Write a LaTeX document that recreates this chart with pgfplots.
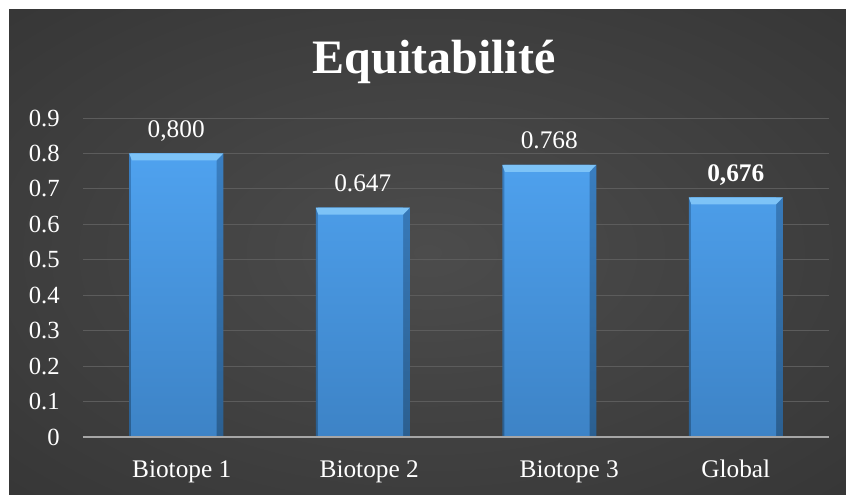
\documentclass[border=0pt]{standalone}
\usepackage{pgfplots}
\pgfplotsset{compat=1.18}
\usepackage{fontspec}
\setmainfont{Liberation Serif}
\definecolor{bgin}{HTML}{4C4C4C}
\definecolor{bgout}{HTML}{222222}
\definecolor{gridc}{HTML}{5C5C5C}
\definecolor{axisc}{HTML}{A6A6A6}
\definecolor{barTop}{HTML}{4FA2EF}
\definecolor{barBot}{HTML}{3D83C6}
\definecolor{edgeTop}{HTML}{3A7FC2}
\definecolor{edgeBot}{HTML}{2B5F90}
\definecolor{bevel}{HTML}{7DC3F7}
\pgfdeclareradialshading{bgshade}{\pgfpoint{0bp}{0bp}}{color(0bp)=(bgin); color(70bp)=(bgout); color(80bp)=(bgout)}
\pgfdeclareplotmark{bevel}{%
  \pgfpathmoveto{\pgfpoint{-35.25pt}{0pt}}%
  \pgfpathlineto{\pgfpoint{35.25pt}{0pt}}%
  \pgfpathlineto{\pgfpoint{30.25pt}{-5.25pt}}%
  \pgfpathlineto{\pgfpoint{-33.25pt}{-5.25pt}}%
  \pgfpathclose\pgfusepathqfill}
\pgfplotstableread{
x y
0 0.800
1 0.647
2 0.768
3 0.676
}\datatab
\begin{document}
\begin{tikzpicture}
\useasboundingbox (0,0) rectangle (634.5pt,371.25pt);
\fill[white] (0,0) rectangle (634.5pt,371.25pt);
\shade[shading=bgshade] (6.75pt,0) rectangle (634.5pt,363.75pt);
\node[anchor=base, text=white, font=\fontsize{36}{40}\selectfont\bfseries, inner sep=0pt] at (325.5pt,315.75pt) {Equitabilité};
\begin{axis}[
  at={(62.25pt,43.5pt)}, anchor=south west,
  scale only axis, width=559.5pt, height=239.25pt,
  xmin=-0.5, xmax=3.5, ymin=0, ymax=0.9,
  axis line style={draw=none}, tick style={draw=none},
  major tick length=0pt,
  ymajorgrids, major grid style={color=gridc, line width=0.75pt},
  ytick={0,0.1,0.2,0.3,0.4,0.5,0.6,0.7,0.8,0.9},
  /pgf/number format/.cd, fixed, precision=1, assume math mode=true, /pgfplots/.cd,
  yticklabel style={anchor=east, inner sep=0pt, xshift=-17.25pt, text=white, font=\fontsize{18.5}{20}\selectfont},
  xtick={0,1,2,3},
  xticklabels={\hspace*{8.25pt}Biotope 1, \hspace*{9.75pt}Biotope 2, \hspace*{30pt}Biotope 3, Global},
  xticklabel style={anchor=base, inner sep=0pt, yshift=-30.75pt, text=white, font=\fontsize{19}{21}\selectfont},
  clip=false,
]
\addplot[ybar, bar width=70.5pt, bar shift=0pt, draw=none, top color=edgeTop, bottom color=edgeBot] table[x=x,y=y] {\datatab};
\addplot[ybar, bar width=64pt, bar shift=-1.75pt, draw=none, top color=barTop, bottom color=barBot] table[x=x,y=y] {\datatab};
\addplot[only marks, mark=bevel, color=bevel] table[x=x,y=y] {\datatab};
\addplot[only marks, mark=none, nodes near coords, point meta=explicit symbolic,
  every node near coord/.append style={anchor=base, inner sep=0pt, yshift=12pt, text=white, font=\fontsize{19}{21}\selectfont}]
  coordinates {(0,0.800) [0,800] (1,0.647) [0.647] (2,0.768) [0.768] (3,0.676) [\textbf{0,676}]};
\draw[axisc, line width=1.9pt] (axis cs:-0.5,0) -- (axis cs:3.5,0);
\end{axis}
\end{tikzpicture}
\end{document}
